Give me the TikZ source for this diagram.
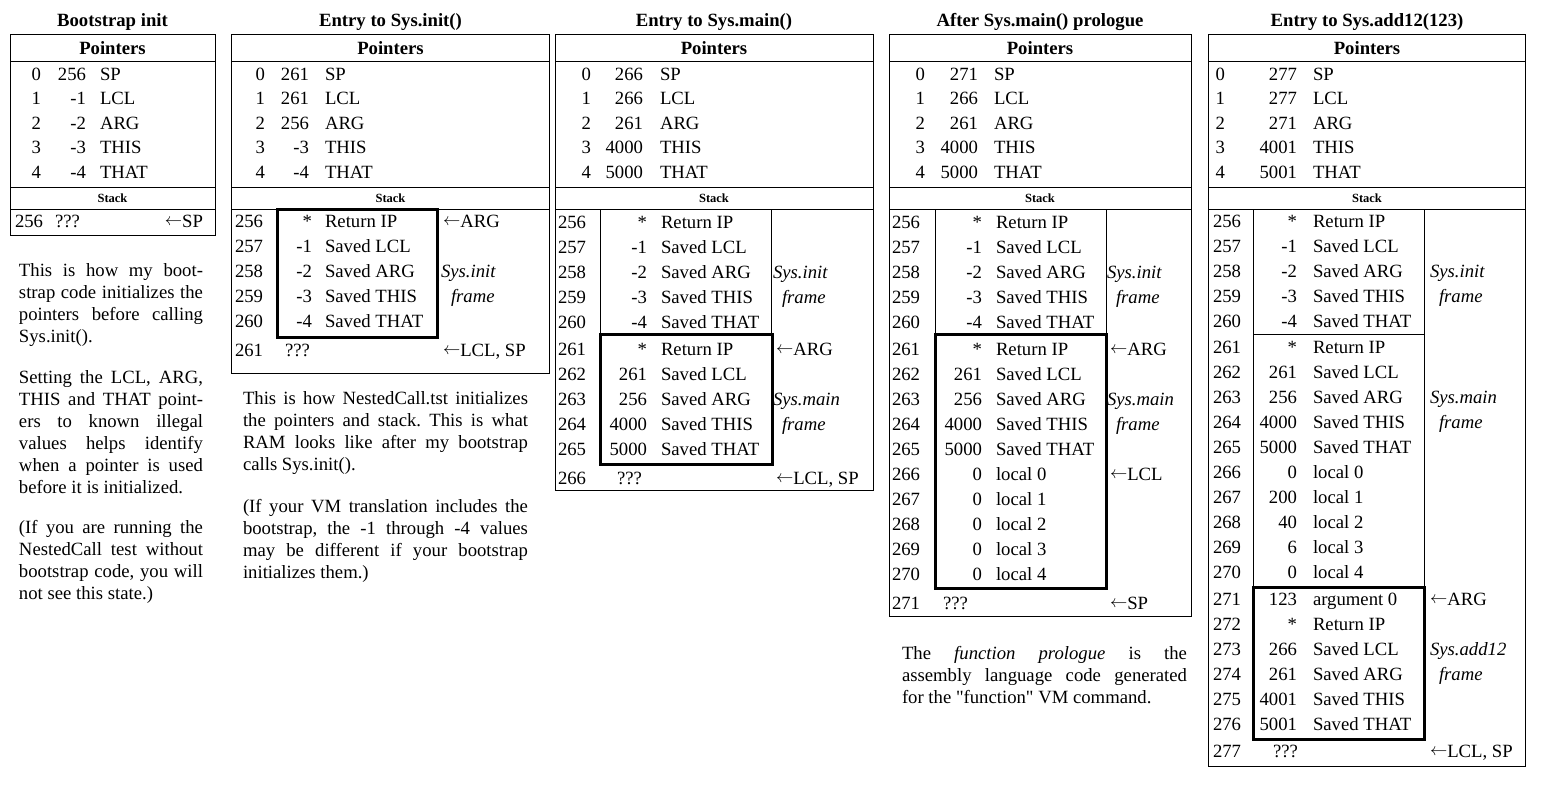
\documentclass[tikz,border=0pt]{standalone}
\usepackage{fontspec}
\setmainfont{Liberation Serif}[Ligatures=TeXOff]
\newcommand{\fsz}{\fontsize{18.7}{22}\selectfont}
\newcommand{\larr}{\raisebox{1.8pt}{\fontsize{16}{16}\selectfont$\leftarrow$}}
\newcommand{\ptrrows}[5]{%
  \foreach \v/\l [count=\k from 0] in {#5}{%
    \node[rt] (#1i\k) at (#2,{80.5+24.45*\k}) {\k};
    \node[rt] (#1v\k) at (#3,{80.5+24.45*\k}) {\v};
    \node[lt] (#1l\k) at (#4,{80.5+24.45*\k}) {\l};
  }}
\newcommand{\stkrows}[6]{%
  \foreach \a/\v/\l [count=\k from 0] in {#6}{%
    \node[lt] (#1a\k) at (#3,{#2+6+25*\k}) {\a};
    \node[rt] (#1v\k) at (#4,{#2+6+25*\k}) {\v};
    \node[lt] (#1l\k) at (#5,{#2+6+25*\k}) {\l};
  }}
\newcommand{\paralines}[5]{%
  \foreach \txtline [count=\k from 0] in {#4}{%
    \node[lt] (#1\k) at (#2,{#3+22*\k}) {\makebox[#5pt][s]{\txtline}};
  }}
\tikzset{
  txt/.style={font=\fsz\frenchspacing, inner sep=0pt, outer sep=0pt},
  rt/.style={txt, anchor=base east},
  lt/.style={txt, anchor=base west},
  ct/.style={txt, anchor=base},
  hd/.style={ct, font=\fsz\bfseries},
  sk/.style={ct, font=\fontsize{12.5}{14}\selectfont\bfseries},
  note/.style={lt, font=\fsz\itshape},
  rule/.style={line width=1pt},
  heavy/.style={line width=3pt},
}
\begin{document}
\begin{tikzpicture}[x=1pt,y=-1pt]
\useasboundingbox (0,0) rectangle (1547,785);
\fill[white] (0,0) rectangle (1547,785);

% ---------------- Panel 1 ----------------
\node[hd] (t1) at (112.5,26.5) {Bootstrap init};
\draw[rule] (10,34) rectangle (215,235);
\draw[rule] (10,61) -- (215,61) (10,187) -- (215,187) (10,209) -- (215,209);
\node[hd] (h1) at (112.5,54) {Pointers};
\ptrrows{p1}{41}{86}{100}{256/SP,-1/LCL,-2/ARG,-3/THIS,-4/THAT}
\node[sk] (k1) at (112.5,202) {Stack};
\node[lt] (p1sa0) at (15,227) {256};
\node[lt] (p1sq) at (55,227) {???};
\node[rt] (p1sp) at (203,227) {\larr SP};
\paralines{q1a}{19}{276.5}{{This is how my boot-},{strap code initializes the},{pointers before calling}}{184}
\node[lt] (q1a3) at (19,342.5) {Sys.init().};
\paralines{q1b}{19}{383}{{Setting the LCL, ARG,},{THIS and THAT point-},{ers to known illegal},{values helps identify},{when a pointer is used}}{184}
\node[lt] (q1b5) at (19,493) {before it is initialized.};
\paralines{q1c}{19}{533}{{(If you are running the},{NestedCall test without},{bootstrap code, you will}}{184}
\node[lt] (q1c3) at (19,599) {not see this state.)};

% ---------------- Panel 2 ----------------
\node[hd] (t2) at (390.5,26.5) {Entry to Sys.init()};
\draw[rule] (231.5,34) rectangle (549.5,373);
\draw[rule] (231.5,61) -- (549.5,61) (231.5,187) -- (549.5,187) (231.5,209) -- (549.5,209);
\node[hd] (h2) at (390.5,54) {Pointers};
\ptrrows{p2}{265}{309}{325}{261/SP,261/LCL,256/ARG,-3/THIS,-4/THAT}
\node[sk] (k2) at (390.5,202) {Stack};
\stkrows{p2s}{221}{235}{312}{325}{256/*/Return IP,257/-1/Saved LCL,258/-2/Saved ARG,259/-3/Saved THIS,260/-4/Saved THAT}
\draw[heavy] (277,209) rectangle (437,337);
\node[lt] (p2n0) at (443,227) {\larr ARG};
\node[note] (p2n1) at (441,277) {Sys.init};
\node[note] (p2n2) at (451,302) {frame};
\node[lt] (p2x) at (235,356) {261};
\node[lt] (p2q) at (285,356) {???};
\node[lt] (p2n3) at (443,356) {\larr LCL, SP};
\paralines{q2a}{243}{404}{{This is how NestedCall.tst initializes},{the pointers and stack. This is what},{RAM looks like after my bootstrap}}{285}
\node[lt] (q2a3) at (243,470) {calls Sys.init().};
\paralines{q2b}{243}{512}{{(If your VM translation includes the},{bootstrap, the -1 through -4 values},{may be different if your bootstrap}}{285}
\node[lt] (q2b3) at (243,578) {initializes them.)};

% ---------------- Panel 3 ----------------
\node[hd] (t3) at (714,26.5) {Entry to Sys.main()};
\draw[rule] (555,34) rectangle (873,490);
\draw[rule] (555,61) -- (873,61) (555,187) -- (873,187) (555,209) -- (873,209);
\node[hd] (h3) at (714,54) {Pointers};
\ptrrows{p3}{591}{643}{660}{266/SP,266/LCL,261/ARG,4000/THIS,5000/THAT}
\node[sk] (k3) at (714,202) {Stack};
\draw[rule] (600,209) -- (600,334) (771,209) -- (771,334);
\stkrows{p3s}{222}{558}{647}{661}{256/*/Return IP,257/-1/Saved LCL,258/-2/Saved ARG,259/-3/Saved THIS,260/-4/Saved THAT}
\stkrows{p3m}{349}{558}{647}{661}{261/*/Return IP,262/261/Saved LCL,263/256/Saved ARG,264/4000/Saved THIS,265/5000/Saved THAT}
\draw[heavy] (600,334) rectangle (772,464);
\node[note] (p3n1) at (773,278) {Sys.init};
\node[note] (p3n2) at (782,303) {frame};
\node[lt] (p3n3) at (776,355) {\larr ARG};
\node[note] (p3n4) at (773,405) {Sys.main};
\node[note] (p3n5) at (782,430) {frame};
\node[lt] (p3x) at (558,484) {266};
\node[lt] (p3q) at (617,484) {???};
\node[lt] (p3n6) at (776,484) {\larr LCL, SP};

% ---------------- Panel 4 ----------------
\node[hd] (t4) at (1040,26.5) {After Sys.main() prologue};
\draw[rule] (889.5,34) rectangle (1191,616);
\draw[rule] (889.5,61) -- (1191,61) (889.5,187) -- (1191,187) (889.5,209) -- (1191,209);
\node[hd] (h4) at (1040,54) {Pointers};
\ptrrows{p4}{925}{978}{994}{271/SP,266/LCL,261/ARG,4000/THIS,5000/THAT}
\node[sk] (k4) at (1040,202) {Stack};
\draw[rule] (935,209) -- (935,334) (1106,209) -- (1106,334);
\stkrows{p4s}{222}{892}{982}{996}{256/*/Return IP,257/-1/Saved LCL,258/-2/Saved ARG,259/-3/Saved THIS,260/-4/Saved THAT}
\stkrows{p4m}{349}{892}{982}{996}{261/*/Return IP,262/261/Saved LCL,263/256/Saved ARG,264/4000/Saved THIS,265/5000/Saved THAT,266/0/local 0,267/0/local 1,268/0/local 2,269/0/local 3,270/0/local 4}
\draw[heavy] (935,334) rectangle (1106,588);
\node[note] (p4n1) at (1107,278) {Sys.init};
\node[note] (p4n2) at (1116,303) {frame};
\node[lt] (p4n3) at (1110,355) {\larr ARG};
\node[note] (p4n4) at (1107,405) {Sys.main};
\node[note] (p4n5) at (1116,430) {frame};
\node[lt] (p4n6) at (1110,480) {\larr LCL};
\node[lt] (p4x) at (892,609) {271};
\node[lt] (p4q) at (943,609) {???};
\node[lt] (p4n7) at (1110,609) {\larr SP};
\paralines{q4a}{902}{659}{{The \textit{function prologue} is the},{assembly language code generated}}{285}
\node[lt] (q4a2) at (902,703) {for the "function" VM command.};

% ---------------- Panel 5 ----------------
\node[hd] (t5) at (1367,26.5) {Entry to Sys.add12(123)};
\draw[rule] (1208.5,34) rectangle (1525,766);
\draw[rule] (1208.5,61) -- (1525,61) (1208.5,187) -- (1525,187) (1208.5,209) -- (1525,209);
\node[hd] (h5) at (1367,54) {Pointers};
\ptrrows{p5}{1225}{1297}{1313}{277/SP,277/LCL,271/ARG,4001/THIS,5001/THAT}
\node[sk] (k5) at (1367,202) {Stack};
\draw[rule] (1253,209) -- (1253,587) (1424,209) -- (1424,587) (1253,334) -- (1424,334);
\stkrows{p5s}{221}{1213}{1297}{1313}{256/*/Return IP,257/-1/Saved LCL,258/-2/Saved ARG,259/-3/Saved THIS,260/-4/Saved THAT}
\stkrows{p5m}{347}{1213}{1297}{1313}{261/*/Return IP,262/261/Saved LCL,263/256/Saved ARG,264/4000/Saved THIS,265/5000/Saved THAT,266/0/local 0,267/200/local 1,268/40/local 2,269/6/local 3,270/0/local 4}
\stkrows{p5a}{599}{1213}{1297}{1313}{271/123/argument 0,272/*/Return IP,273/266/Saved LCL,274/261/Saved ARG,275/4001/Saved THIS,276/5001/Saved THAT}
\draw[heavy] (1253,587) rectangle (1424,739);
\node[note] (p5n1) at (1430,277) {Sys.init};
\node[note] (p5n2) at (1439,302) {frame};
\node[note] (p5n3) at (1430,403) {Sys.main};
\node[note] (p5n4) at (1439,428) {frame};
\node[lt] (p5n5) at (1430,605) {\larr ARG};
\node[note] (p5n6) at (1430,655) {Sys.add12};
\node[note] (p5n7) at (1439,680) {frame};
\node[lt] (p5x) at (1213,757) {277};
\node[lt] (p5q) at (1273,757) {???};
\node[lt] (p5n8) at (1430,757) {\larr LCL, SP};
\end{tikzpicture}
\end{document}
